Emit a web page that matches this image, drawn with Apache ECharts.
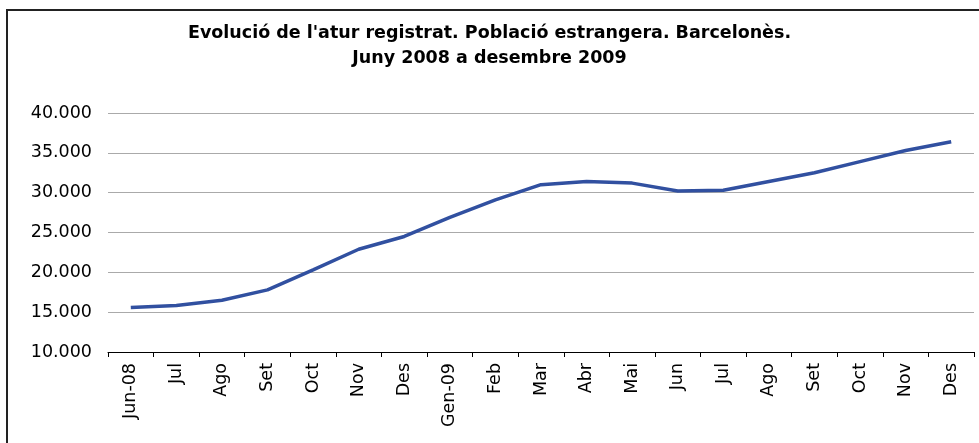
<!DOCTYPE html>
<html>
<head>
<meta charset="utf-8">
<script src="https://cdn.jsdelivr.net/npm/echarts@6/dist/echarts.min.js"></script>
<style>
  html, body { margin: 0; padding: 0; background: #fff; }
  #chart { width: 979px; height: 443px; }
</style>
</head>
<body>
<div id="chart"></div>
<script>
// mesos (juny 2008 - desembre 2009)
var months = ['Jun-08', 'Jul', 'Ago', 'Set', 'Oct', 'Nov', 'Des', 'Gen-09', 'Feb', 'Mar',
              'Abr', 'Mai', 'Jun', 'Jul', 'Ago', 'Set', 'Oct', 'Nov', 'Des'];
// atur registrat, poblacio estrangera
var aturValues = [15600, 15850, 16500, 17800, 20300, 22900, 24500, 26900, 29100, 31000,
                  31400, 31200, 30200, 30300, 31400, 32500, 33900, 35300, 36400];
var titleText = "Evolució de l'atur registrat. Població estrangera. Barcelonès.\nJuny 2008 a desembre 2009";

function fmt(v) {
  // separador de milers amb punt
  var s = String(v);
  return s.replace(/\B(?=(\d{3})+(?!\d))/g, '.');
}

var myChart = echarts.init(document.getElementById('chart'));
var option = {
  animation: false,
  backgroundColor: '#ffffff',
  title: {
    text: titleText,
    left: 'center',
    top: 16,
    textStyle: {
      fontFamily: 'DejaVu Sans',
      fontWeight: 'bold',
      fontSize: 17.5,
      lineHeight: 25,
      color: '#000'
    }
  },
  graphic: [{
    type: 'rect',
    shape: { x: 7, y: 10, width: 1000, height: 500 },
    style: { fill: 'none', stroke: '#222', lineWidth: 2 },
    silent: true
  }],
  grid: { left: 108, right: 5, top: 113, bottom: 91 },
  xAxis: {
    type: 'category',
    data: months,
    boundaryGap: true,
    axisLine: { show: true, lineStyle: { color: '#000', width: 1 } },
    axisTick: { show: true, length: 5, lineStyle: { color: '#000' } },
    axisLabel: {
      rotate: 90,
      margin: 11,
      interval: 0,
      fontFamily: 'DejaVu Sans',
      fontSize: 17.5,
      color: '#000'
    }
  },
  yAxis: {
    type: 'value',
    min: 10000,
    max: 40000,
    interval: 5000,
    axisLine: { show: false },
    axisTick: { show: false },
    axisLabel: {
      margin: 16,
      fontFamily: 'DejaVu Sans',
      fontSize: 17.5,
      color: '#000',
      formatter: fmt
    },
    splitLine: { lineStyle: { color: '#aaaaaa', width: 1 } }
  },
  series: [{
    type: 'line',
    data: aturValues,
    symbol: 'none',
    lineStyle: { color: '#3150a0', width: 3.5 }
  }]
};
myChart.setOption(option);
</script>
</body>
</html>
